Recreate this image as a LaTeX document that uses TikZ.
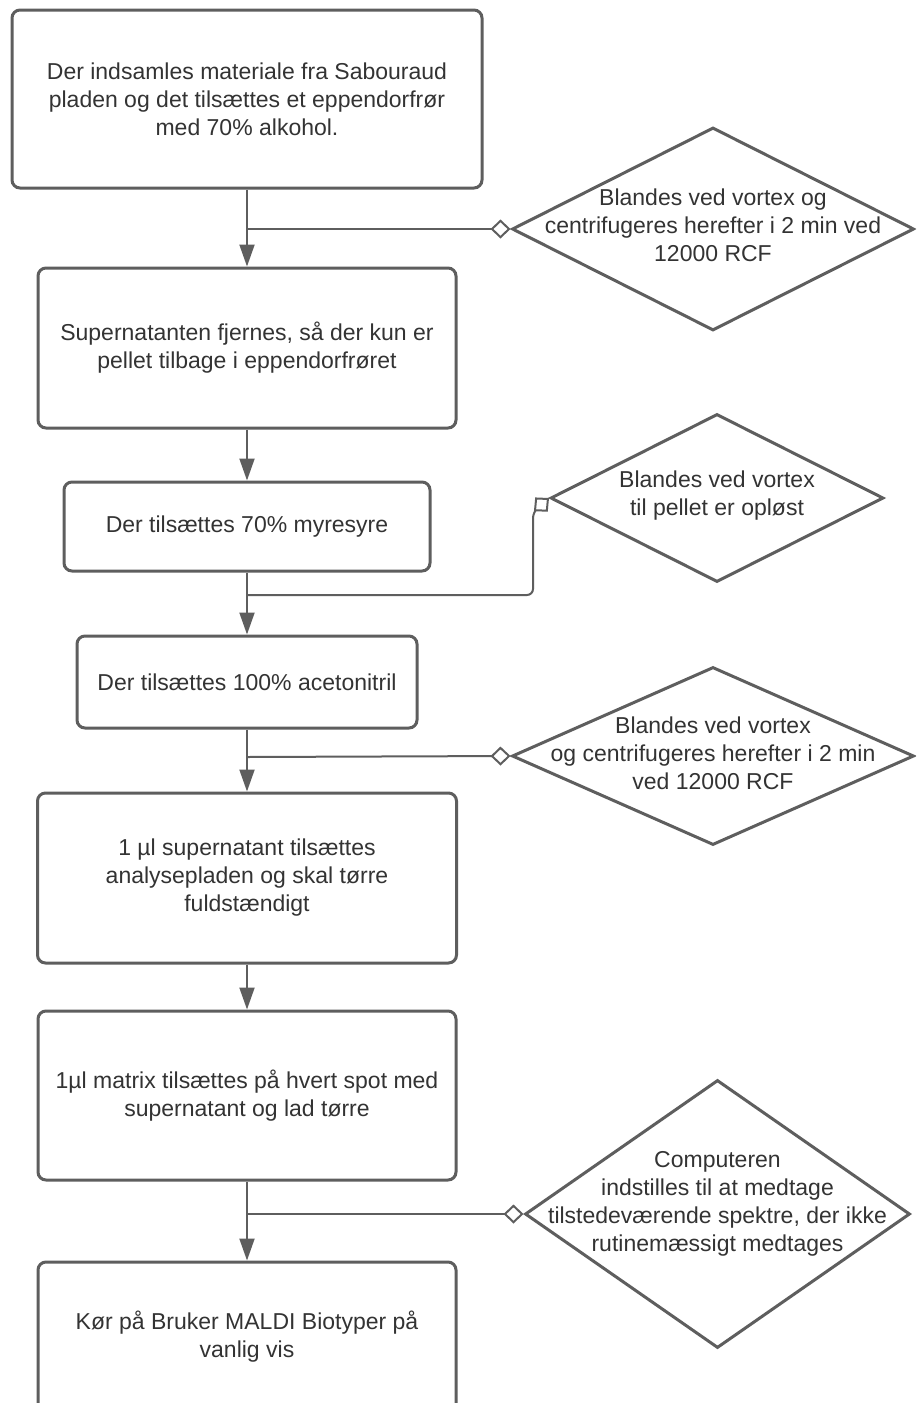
\documentclass[tikz,border=0pt]{standalone}
\usepackage{fontspec}
\setmainfont{Liberation Sans}
\usetikzlibrary{arrows.meta,shapes.geometric}
\definecolor{linec}{HTML}{5E5E5E}
\definecolor{txtc}{HTML}{333333}
\begin{document}
\begin{tikzpicture}[x=1pt,y=-1pt,
  font=\fontsize{23}{28}\selectfont,
  stepbox/.style={draw=linec, line width=3pt, rounded corners=8pt, fill=white, inner sep=0pt, text=txtc, align=center},
  decbox/.style={draw=linec, line width=3pt, diamond, inner sep=0pt, fill=white},
  dectext/.style={text=txtc, align=center, inner sep=0pt},
  flow/.style={draw=linec, line width=2pt, -{Triangle[length=22pt,width=15pt]}},
  branch/.style={draw=linec, line width=2pt, -{Diamond[length=20pt,width=19pt,fill=white]}},
]
\useasboundingbox (0,0) rectangle (916,1403);
\clip (0,0) rectangle (916,1403);
\fill[white] (0,0) rectangle (916,1403);

% step boxes
\node[stepbox, minimum width=470pt, minimum height=178pt] (b1) at (247,99) {Der indsamles materiale fra Sabouraud\\pladen og det tilsættes et eppendorfrør\\med 70\% alkohol.};
\node[stepbox, minimum width=418pt, minimum height=160pt] (b2) at (247,348) {Supernatanten fjernes, så der kun er\\pellet tilbage i eppendorfrøret};
\node[stepbox, minimum width=366pt, minimum height=89pt] (b3) at (247,526.5) {Der tilsættes 70\% myresyre};
\node[stepbox, minimum width=340pt, minimum height=92pt] (b4) at (247,682) {Der tilsættes 100\% acetonitril};
\node[stepbox, minimum width=419pt, minimum height=170pt] (b5) at (247,878) {1 µl supernatant tilsættes\\analysepladen og skal tørre\\fuldstændigt};
\node[stepbox, minimum width=418pt, minimum height=169pt] (b6) at (247,1095.5) {1µl matrix tilsættes på hvert spot med\\supernatant og lad tørre};
\node[stepbox, minimum width=418pt, minimum height=150pt] (b7) at (247,1337) {Kør på Bruker MALDI Biotyper på\\vanlig vis};

% decision diamonds
\node[decbox, minimum width=402pt, minimum height=203pt] (d1) at (713,229) {};
\node[dectext] (t1) at (713,225.5) {Blandes ved vortex og\\centrifugeres herefter i 2 min ved\\12000 RCF};
\node[decbox, minimum width=333pt, minimum height=168pt] (d2) at (717,498) {};
\node[dectext] (t2) at (717,496) {Blandes ved vortex\\til pellet er opløst};
\node[decbox, minimum width=402pt, minimum height=178pt] (d3) at (713,756) {};
\node[dectext] (t3) at (713,753) {Blandes ved vortex\\og centrifugeres herefter i 2 min\\ved 12000 RCF};
\node[decbox, minimum width=385pt, minimum height=268pt] (d4) at (717.5,1214) {};
\node[dectext] (t4) at (717.5,1204) {Computeren\\indstilles til at medtage\\tilstedeværende spektre, der ikke\\rutinemæssigt medtages};

% junctions
\coordinate (j1) at (247,229);
\coordinate (j2) at (247,595);
\coordinate (j3) at (247,757);
\coordinate (j4) at (247,1214);

% main flow
\draw[flow] (b1.south) -- (b2.north);
\draw[flow] (b2.south) -- (b3.north);
\draw[flow] (b3.south) -- (b4.north);
\draw[flow] (b4.south) -- (b5.north);
\draw[flow] (b5.south) -- (b6.north);
\draw[flow] (b6.south) -- (b7.north);

% branches to decisions
\draw[branch] (j1) -- (d1.west);
\draw[branch] (j2) [rounded corners=6pt] -- (533,595) -- (533,512) [sharp corners] -- (d2.west);
\draw[branch] (j3) -- (d3.west);
\draw[branch] (j4) -- (d4.west);
\end{tikzpicture}
\end{document}
